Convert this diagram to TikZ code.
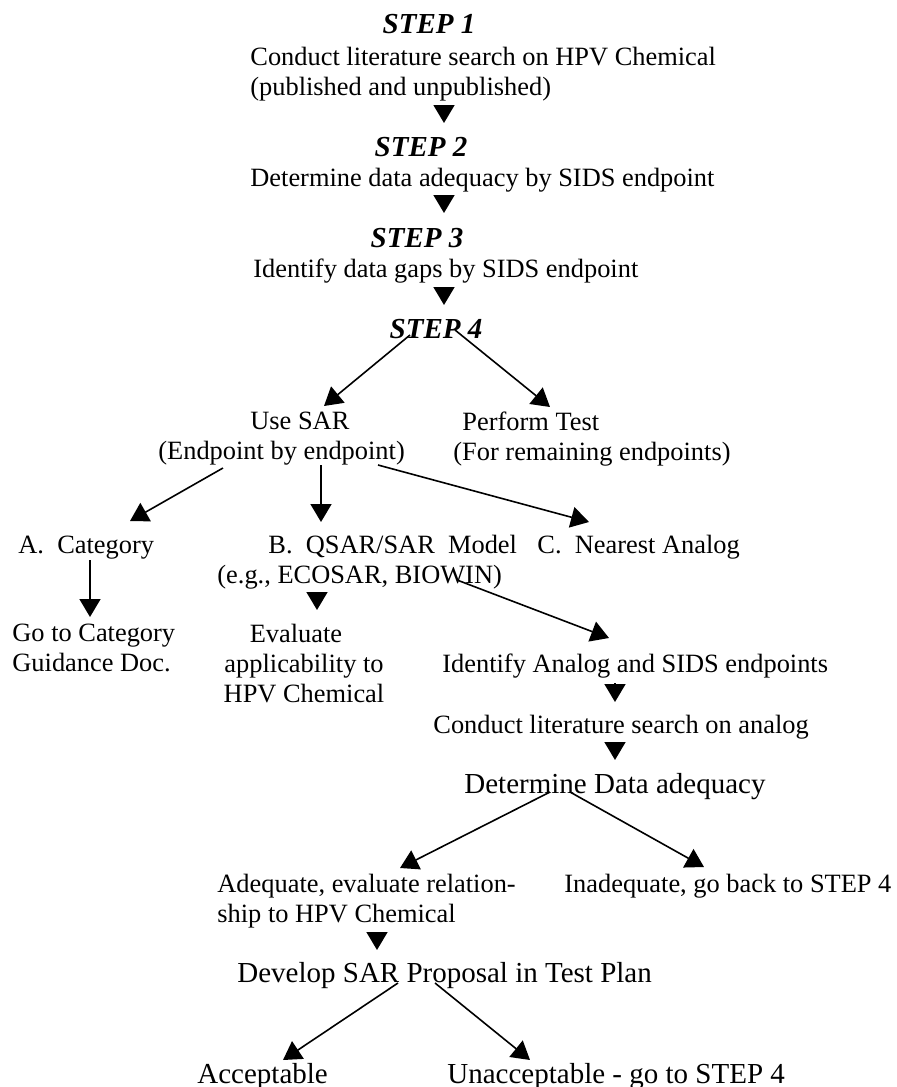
\documentclass[tikz,border=0pt]{standalone}
\usepackage{fontspec}
\setmainfont{Liberation Serif}
\usetikzlibrary{arrows.meta,calc}
\begin{document}
\begin{tikzpicture}[x=0.5pt, y=-0.5pt,
    txt/.style={inner sep=0pt, font=\fontsize{13.2}{15}\selectfont},
    big/.style={inner sep=0pt, font=\fontsize{14.5}{17}\selectfont},
    steplbl/.style={inner sep=0pt, font=\fontsize{14.5}{17}\selectfont\bfseries\itshape},
    head/.style={line width=0.8pt, -{Triangle[length=\tipl, width=\tipw]}}]
    \def\tipl{9pt}
    \def\tipw{10.5pt}
    \useasboundingbox (0,0) rectangle (897,1087);

    % steps 1 to 4
    \node[steplbl, anchor=base] (step1) at (429,33) {STEP 1};
    \node[txt, anchor=north west, align=left] (conduct) at (250,47) {Conduct literature search on HPV Chemical\\(published and unpublished)};
    \node[steplbl, anchor=base] (step2) at (421,156) {STEP 2};
    \node[txt, anchor=base west] (determ) at (250,186) {Determine data adequacy by SIDS endpoint};
    \node[steplbl, anchor=base] (step3) at (417,247) {STEP 3};
    \node[txt, anchor=base west] (gaps) at (253,277) {Identify data gaps by SIDS endpoint};
    \node[steplbl, anchor=base] (step4) at (436,338) {STEP 4};

    % step 4 splits
    \node[txt, anchor=north west, align=left] (usesar) at (158,412) {\hspace*{46pt}Use SAR\\(Endpoint by endpoint)};
    \node[txt, anchor=north west, align=left] (perform) at (453,412) {\hspace*{4.5pt}Perform Test\\(For remaining endpoints)};

    % SAR ways
    \node[txt, anchor=base west] (catA) at (18,553) {A.\ \ Category};
    \node[txt, anchor=north west, align=left] (qsar) at (217,535) {\hspace*{25.5pt}B.\ \ QSAR/SAR\ \ Model\\(e.g., ECOSAR, BIOWIN)};
    \node[txt, anchor=base west] (analogC) at (537,553) {C.\ \ Nearest Analog};
    \node[txt, anchor=north west, align=left] (goto) at (12,624) {Go to Category\\Guidance Doc.};
    \node[txt, anchor=north, align=center] (evalB) at (304,624) {Evaluate\hspace*{8pt}\\applicability to\\HPV Chemical};

    % analog route
    \node[txt, anchor=base west] (identA) at (442,672) {Identify Analog and SIDS endpoints};
    \node[txt, anchor=base west] (searchA) at (433,733) {Conduct literature search on analog};
    \node[big, anchor=base west] (adeq) at (464,793) {Determine Data adequacy};
    \node[txt, anchor=north west, align=left] (adequate) at (217,874) {Adequate, evaluate relation-\\ship to HPV Chemical};
    \node[txt, anchor=base west] (inadeq) at (564,892) {Inadequate, go back to STEP 4};
    \node[big, anchor=base west] (develop) at (237,982) {Develop SAR Proposal in Test Plan};
    \node[big, anchor=base west] (accept) at (197,1083) {Acceptable};
    \node[big, anchor=base west] (unaccept) at (447,1083) {Unacceptable - go to STEP 4};

    % short heads
    \draw[head] ($(conduct.north west)+(194,58)$) -- ($(step2.base)+(23,-33)$);
    \draw[head] ($(determ.base west)+(194,9)$) -- ($(step3.base)+(27,-34)$);
    \draw[head] ($(gaps.base west)+(191,10)$) -- ($(step4.base)+(8,-33)$);
    \draw[head] ($(qsar.north west)+(100,57)$) -- ($(evalB.north)+(13,-14)$);
    \draw[head] ($(identA.base west)+(173,11)$) -- ($(searchA.base west)+(182,-31)$);
    \draw[head] ($(searchA.base west)+(182,9)$) -- ($(adeq.base west)+(151,-33)$);
    \draw[head] ($(adequate.north west)+(160,58)$) -- ($(develop.base west)+(140,-32)$);

    % long arrows
    \draw[head] ($(step4.base)+(-26,-3)$) -- ($(usesar.north west)+(166,-6)$);
    \draw[head] ($(step4.base)+(19,-8)$) -- ($(perform.north west)+(97,-5)$);
    \draw[head] ($(usesar.north west)+(65,56)$) -- ($(catA.base west)+(112,-32)$);
    \draw[head] ($(usesar.north west)+(163,53)$) -- ($(qsar.north west)+(104,-13)$);
    \draw[head] ($(usesar.north west)+(220,53)$) -- ($(analogC.base west)+(52,-31)$);
    \draw[head] ($(catA.base west)+(72,7)$) -- ($(goto.north west)+(78,-7)$);
    \draw[head] ($(qsar.north west)+(240,45)$) -- ($(identA.base west)+(167,-34)$);
    \draw[head] ($(adeq.base west)+(86,-1)$) -- ($(adequate.north west)+(183,-6)$);
    \draw[head] ($(adeq.base west)+(106,-1)$) -- ($(inadeq.base west)+(140,-25)$);
    \draw[head] ($(develop.base west)+(161,1)$) -- ($(accept.base west)+(86,-23)$);
    \draw[head] ($(develop.base west)+(198,1)$) -- ($(unaccept.base west)+(83,-23)$);
\end{tikzpicture}
\end{document}
